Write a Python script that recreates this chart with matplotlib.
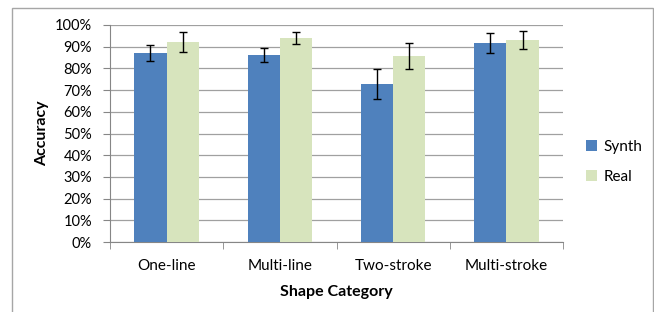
import numpy as np
import matplotlib
matplotlib.use("Agg")
import matplotlib.pyplot as plt
from matplotlib.patches import Rectangle
from matplotlib.ticker import PercentFormatter

categories = ["One-line", "Multi-line", "Two-stroke", "Multi-stroke"]
synth = [87.2, 86.2, 72.8, 91.7]
synth_err = [3.7, 3.2, 6.7, 4.7]
real = [92.2, 94.0, 85.7, 93.1]
real_err = [4.8, 2.7, 5.8, 4.3]

plt.rcParams['font.family'] = ['Lato', 'DejaVu Sans']

W, H = 654, 312
fig = plt.figure(figsize=(W / 100, H / 100), dpi=100)
ax = fig.add_axes([110 / W, 1 - 242 / H, (563 - 110) / W, (242 - 25) / H])

# outer chart border
fig.patches.append(Rectangle((12 / W, -0.05), (653 - 12) / W, 1.05 - 8 / H,
                             transform=fig.transFigure, fill=False,
                             edgecolor='#a6a6a6', lw=1.0))

x = np.arange(len(categories))
w = 0.285
ax.bar(x - w / 2, synth, w, color='#4f81bd', label='Synth', zorder=3,
       yerr=synth_err, capsize=3, error_kw=dict(elinewidth=1, capthick=1, ecolor='black'))
ax.bar(x + w / 2, real, w, color='#d7e4bd', label='Real', zorder=3,
       yerr=real_err, capsize=3, error_kw=dict(elinewidth=1, capthick=1, ecolor='black'))

ax.set_xlim(-0.5, len(categories) - 0.5)
ax.set_ylim(0, 100)
ax.set_yticks(np.arange(0, 101, 10))
ax.yaxis.set_major_formatter(PercentFormatter(decimals=0))
ax.yaxis.grid(True, color='#a0a0a0', lw=0.9, zorder=0)
ax.set_axisbelow(True)

ax.set_xticks(x)
ax.set_xticklabels(categories)
ax.set_xticks(np.arange(-0.5, len(categories)), minor=True)
ax.tick_params(axis='x', which='major', length=0, pad=12, labelsize=11)
ax.tick_params(axis='x', which='minor', length=5, color='#868686')
ax.tick_params(axis='y', length=5, color='#868686', pad=8, labelsize=10.5)

for s in ['top', 'right']:
    ax.spines[s].set_visible(False)
for s in ['left', 'bottom']:
    ax.spines[s].set_color('#868686')

ax.set_xlabel("Shape Category", fontweight='bold', fontsize=11.5, labelpad=9)
ax.set_ylabel("Accuracy", fontweight='bold', fontsize=11.5, labelpad=4)

ax.legend(loc='center left', bbox_to_anchor=(1.02, 0.37), frameon=False,
          handlelength=0.75, handleheight=0.75, handletextpad=0.4,
          labelspacing=1.05, fontsize=11)

fig.savefig("out.png", dpi=100)
